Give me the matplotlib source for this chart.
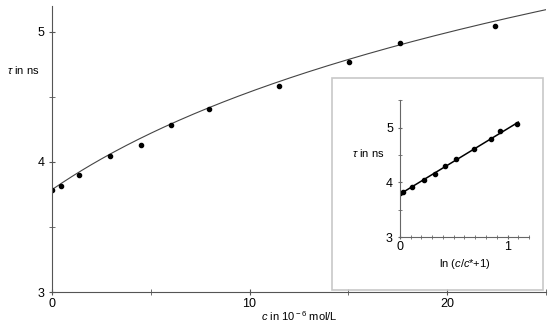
import numpy as np
import matplotlib.pyplot as plt
from matplotlib.patches import Rectangle

plt.rcParams['font.family'] = ['Liberation Sans', 'DejaVu Sans']
plt.rcParams['mathtext.fontset'] = 'custom'
plt.rcParams['mathtext.rm'] = 'Liberation Sans'
plt.rcParams['mathtext.it'] = 'Liberation Sans:italic'

c_vals = [0.0, 0.45, 1.38, 2.93, 4.53, 6.0, 7.93, 11.5, 15.05, 17.64, 22.4]
tau_vals = [3.787, 3.818, 3.90, 4.046, 4.133, 4.285, 4.408, 4.587, 4.772, 4.913, 5.044]
# same points against ln(c/c*+1), inset
lnx_vals = [0.006, 0.03, 0.11, 0.22, 0.33, 0.42, 0.52, 0.69, 0.85, 0.93, 1.09]
tau_inset = [3.80, 3.82, 3.91, 4.05, 4.16, 4.30, 4.42, 4.61, 4.79, 4.93, 5.06]
c_star = 11.4

fig = plt.figure(figsize=(5.5, 3.27), dpi=100)

# main plot
ax = fig.add_axes([0.0945, 0.107, 0.898, 0.875])
slope, icpt = np.polyfit(lnx_vals, tau_inset, 1)
cc = np.linspace(0, 25, 200)
ax.plot(cc, icpt + slope * np.log(cc / c_star + 1), color='#444444', lw=0.8)
ax.plot(c_vals, tau_vals, 'o', color='black', ms=3)
ax.set_xlim(0, 25)
ax.set_ylim(3, 5.2)
ax.set_xticks([0, 10, 20])
ax.set_xticks([5, 15, 25], minor=True)
ax.set_yticks([3, 4, 5])
ax.set_yticks([3.5, 4.5], minor=True)
for s in ['top', 'right']:
    ax.spines[s].set_visible(False)
for s in ['left', 'bottom']:
    ax.spines[s].set_color('#555555')
ax.tick_params(which='both', direction='inout', length=4, color='#555555', labelsize=9)
ax.tick_params(axis='x', pad=2)
ax.set_xlabel(r'$c$ in 10$^{\rm -6}$ mol/L', fontsize=8, labelpad=0)
fig.text(0.012, 0.785, r'$\tau$ in ns', fontsize=8, ha='left', va='center')

# inset frame
fig.patches.append(Rectangle((332 / 550, 1 - 290 / 327), 211 / 550, 212 / 327,
                             transform=fig.transFigure, fill=False,
                             edgecolor='#c8c8c8', lw=1.2))

ins = fig.add_axes([0.727, 0.274, 0.235, 0.42])
xx = np.linspace(0, 1.1, 10)
ins.plot(xx, icpt + slope * xx, color='black', lw=1.1)
ins.plot(lnx_vals, tau_inset, 'o', color='black', ms=3)
ins.set_xlim(0, 1.2)
ins.set_ylim(3, 5.5)
ins.set_xticks([0, 1])
ins.set_xticks(np.arange(0.1, 1.21, 0.1), minor=True)
ins.set_yticks([3, 4, 5])
ins.set_yticks([3.5, 4.5, 5.5], minor=True)
for s in ['top', 'right']:
    ins.spines[s].set_visible(False)
for s in ['left', 'bottom']:
    ins.spines[s].set_color('#666666')
ins.tick_params(which='both', direction='inout', length=3, color='#666666', labelsize=9)
ins.tick_params(axis='x', pad=1)
ins.set_xlabel(r'ln ($c$/$c$*+1)', fontsize=8, labelpad=3)
fig.text(352 / 550, 1 - 153 / 327, r'$\tau$ in ns', fontsize=8, ha='left', va='center')

fig.savefig('out.png', dpi=100)
